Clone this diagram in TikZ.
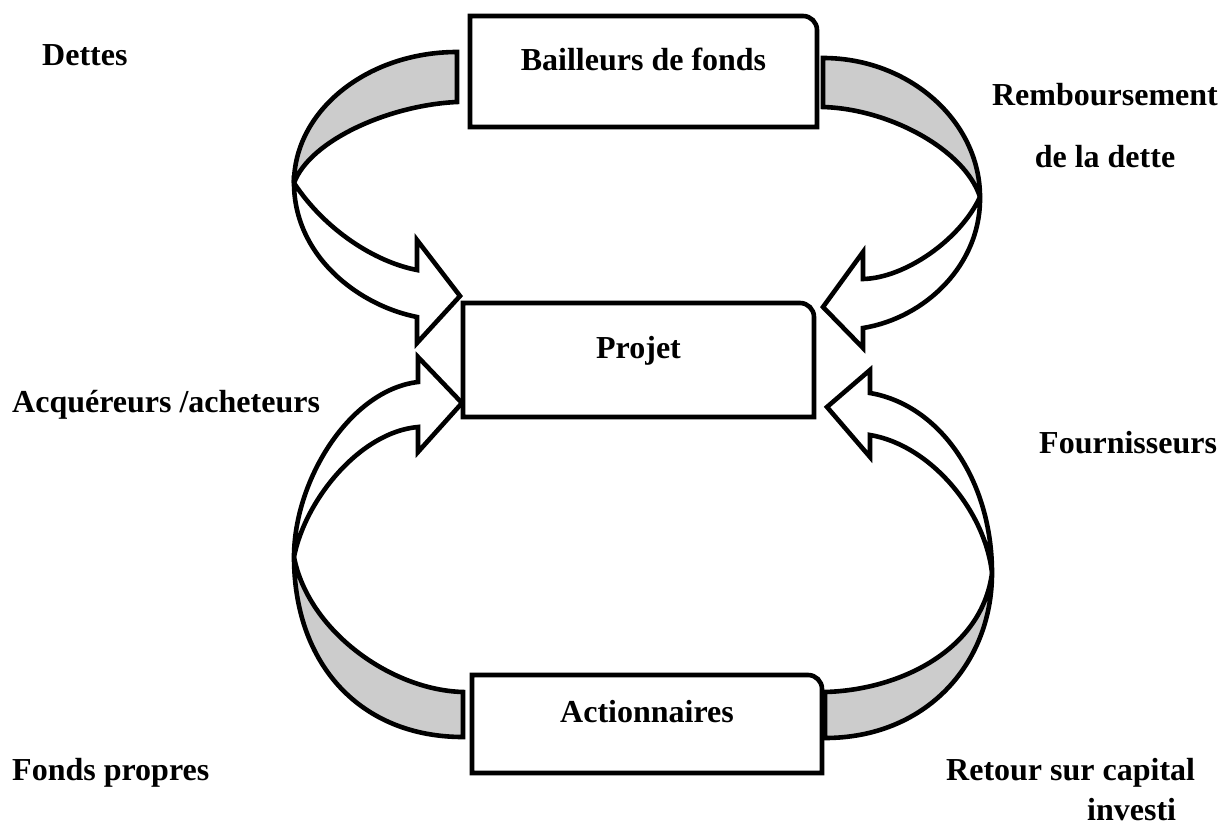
\documentclass[tikz,border=0pt]{standalone}
\usepackage{fontspec}
\setmainfont{Liberation Serif}
\definecolor{bandgrey}{RGB}{204,204,204}
\tikzset{
  outline/.style={draw=black, line width=4.6pt, line join=miter, miter limit=4},
  backband/.style={outline, fill=bandgrey},
  frontband/.style={outline, fill=white},
  boxline/.style={outline, fill=white},
  lbl/.style={font=\bfseries\fontsize{32}{38}\selectfont, inner sep=0pt, anchor=base west},
  boxtitle/.style={font=\bfseries\fontsize{32}{38}\selectfont, inner sep=0pt, anchor=base},
}
\begin{document}
\begin{tikzpicture}[x=1pt, y=-1pt]
\useasboundingbox (0,0) rectangle (1226,825);

% ---------- curved arrow, upper left (Bailleurs -> Projet) ----------
\coordinate (tlT1) at (457,52);  \coordinate (tlT2) at (457,102);
\coordinate (tlX)  at (294,183);
\coordinate (tlA1) at (417,270); \coordinate (tlB1) at (417,240);
\coordinate (tlP)  at (460,296);
\coordinate (tlB2) at (417,343); \coordinate (tlA2) at (417,317);
\path[backband] (tlT1) .. controls (367,52) and (294,111) .. (tlX)
  .. controls (310,140) and (390,105) .. (tlT2) -- cycle;
\path[frontband] (tlX) .. controls (325,230) and (375,262) .. (tlA1)
  -- (tlB1) -- (tlP) -- (tlB2) -- (tlA2)
  .. controls (357,305) and (294,255) .. (tlX) -- cycle;

% ---------- curved arrow, upper right (Bailleurs <- Projet) ----------
\coordinate (trT1) at (823,58);  \coordinate (trT2) at (823,107);
\coordinate (trX)  at (980,197);
\coordinate (trA1) at (863,279); \coordinate (trB1) at (863,252);
\coordinate (trP)  at (823,307);
\coordinate (trB2) at (863,348); \coordinate (trA2) at (863,328);
\path[backband] (trT1) .. controls (909,58) and (980,121) .. (trX)
  .. controls (965,150) and (890,109) .. (trT2) -- cycle;
\path[frontband] (trX) .. controls (960,240) and (905,278) .. (trA1)
  -- (trB1) -- (trP) -- (trB2) -- (trA2)
  .. controls (925,318) and (981,265) .. (trX) -- cycle;

% ---------- curved arrow, lower left (Actionnaires -> Projet) ----------
\coordinate (blT1) at (463,692); \coordinate (blT2) at (463,737);
\coordinate (blX)  at (294,557);
\coordinate (blA1) at (418,382); \coordinate (blB1) at (418,357);
\coordinate (blP)  at (462,403);
\coordinate (blB2) at (418,452); \coordinate (blA2) at (418,427);
\path[backband] (blX) .. controls (308,630) and (390,690) .. (blT1)
  -- (blT2) .. controls (361,737) and (294,665) .. (blX) -- cycle;
\path[frontband] (blX) .. controls (294,480) and (350,390) .. (blA1)
  -- (blB1) -- (blP) -- (blB2) -- (blA2)
  .. controls (360,432) and (305,500) .. (blX) -- cycle;

% ---------- curved arrow, lower right (Actionnaires <- Projet) ----------
\coordinate (brT1) at (825,692); \coordinate (brT2) at (825,738);
\coordinate (brX)  at (992,573);
\coordinate (brA1) at (870,393); \coordinate (brB1) at (870,370);
\coordinate (brP)  at (827,407);
\coordinate (brB2) at (870,457); \coordinate (brA2) at (870,435);
\path[backband] (brX) .. controls (982,650) and (900,690) .. (brT1)
  -- (brT2) .. controls (925,738) and (992,665) .. (brX) -- cycle;
\path[frontband] (brX) .. controls (992,480) and (940,405) .. (brA1)
  -- (brB1) -- (brP) -- (brB2) -- (brA2)
  .. controls (930,445) and (985,510) .. (brX) -- cycle;

% ---------- boxes (top right corner rounded) ----------
\path[boxline] (470,127) -- (470,16) [rounded corners=14pt] -- (817,16)
  [sharp corners] -- (817,127) -- cycle;
\path[boxline] (463,417) -- (463,303) [rounded corners=14pt] -- (814,303)
  [sharp corners] -- (814,417) -- cycle;
\path[boxline] (472,773) -- (472,675) [rounded corners=14pt] -- (822,675)
  [sharp corners] -- (822,773) -- cycle;

\node[boxtitle] (bailleurs) at (643.5,70) {Bailleurs de fonds};
\node[boxtitle] (projet) at (638.5,358) {Projet};
\node[boxtitle] (actionnaires) at (647,722) {Actionnaires};

% ---------- side labels ----------
\node[lbl] (dettes) at (42,65) {Dettes};
\node[boxtitle] (remb1) at (1105,105) {Remboursement};
\node[boxtitle] (remb2) at (1105,167) {de la dette};
\node[lbl] (acquereurs) at (12,412) {Acquéreurs /acheteurs};
\node[lbl] (fournisseurs) at (1039,453) {Fournisseurs};
\node[lbl] (fonds) at (12,780) {Fonds propres};
\node[lbl] (retour) at (946,780) {Retour sur capital};
\node[lbl] (investi) at (1087,820) {investi};
\end{tikzpicture}
\end{document}
